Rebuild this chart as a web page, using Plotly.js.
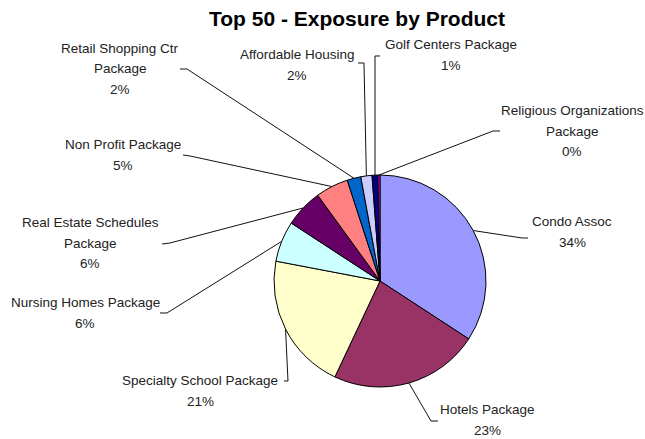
<!DOCTYPE html>
<html>
<head>
<meta charset="utf-8">
<script src="https://cdn.plot.ly/plotly-3.0.1.min.js"></script>
<style>html,body{margin:0;padding:0;background:#fff;}#chart{width:645px;height:439px;}</style>
</head>
<body>
<div id="chart"></div>
<script>
// ---- data ----
const categories = [
  'Condo Assoc',
  'Hotels Package',
  'Specialty School Package',
  'Nursing Homes Package',
  'Real Estate Schedules<br>Package',
  'Non Profit Package',
  'Retail Shopping Ctr<br>Package',
  'Affordable Housing',
  'Golf Centers Package',
  'Religious Organizations<br>Package'
];
const values = [34.2, 22.8, 21.0, 6.2, 5.8, 5.0, 2.1, 1.7, 0.9, 0.3];
const colors = ['#9999FF', '#993366', '#FFFFCC', '#CCFFFF', '#660066',
                '#FF8080', '#0066CC', '#CCCCFF', '#000080', '#FF00FF'];

// ---- layout (pixels) ----
const W = 645, H = 439;
const CX = 380, CY = 281, R = 106;
// label block centres and leader line waypoints (label side)
const labelPos = [
  [572, 232], [487, 420], [200, 391], [85, 313], [90, 243],
  [123, 155], [120, 69], [297, 65], [451, 55], [572, 131]
];
const leaderPts = [
  [[528, 238], [522, 238]],
  [[438, 421], [431, 421]],
  [[284, 381], [288, 381]],
  [[160, 313], [167, 313]],
  [[162, 244], [170, 243]],
  [[183, 155], [190, 156]],
  [[180, 69], [187, 69]],
  [[358, 63], [364, 63]],
  [[380, 56], [375, 56]],
  [[500, 131], [493, 131]]
];
const LINE_GAP = 20.5;

const px = x => x / W;
const py = y => 1 - y / H;

const total = values.reduce((a, b) => a + b, 0);
const annotations = [];
const shapes = [];
let cum = 0;
values.forEach((v, i) => {
  const mid = (cum + v / 2) / total * 2 * Math.PI;
  cum += v;
  const ex = CX + R * Math.sin(mid);
  const ey = CY - R * Math.cos(mid);
  const pct = Math.round(v / total * 100) + '%';
  const lines = categories[i].split('<br>').concat([pct]);
  const n = lines.length;
  lines.forEach((t, k) => {
    annotations.push({
      text: t, showarrow: false, xref: 'paper', yref: 'paper',
      x: px(labelPos[i][0]), y: py(labelPos[i][1] + (k - (n - 1) / 2) * LINE_GAP),
      xanchor: 'center', yanchor: 'middle',
      font: {family: 'Liberation Sans, Arial, sans-serif', size: 13.5, color: '#222'}
    });
  });
  const pts = leaderPts[i].concat([[ex, ey]]);
  const path = pts.map((p, k) => (k ? 'L' : 'M') + px(p[0]).toFixed(5) + ',' + py(p[1]).toFixed(5)).join(' ');
  shapes.push({type: 'path', xref: 'paper', yref: 'paper', path: path,
    line: {color: '#111', width: 1}});
});

const trace = {
  type: 'pie',
  labels: categories,
  values: values,
  sort: false,
  direction: 'clockwise',
  rotation: 0,
  textinfo: 'none',
  hoverinfo: 'label+percent',
  marker: {colors: colors, line: {color: '#000', width: 1}},
  domain: {x: [px(CX - R), px(CX + R)], y: [py(CY + R), py(CY - R)]}
};

const layout = {
  width: W, height: H,
  margin: {l: 0, r: 0, t: 0, b: 0},
  paper_bgcolor: '#fff',
  showlegend: false,
  title: {
    text: '<b>Top 50 - Exposure by Product</b>',
    x: px(357), xanchor: 'center', xref: 'paper',
    y: py(19), yanchor: 'middle', yref: 'paper',
    font: {family: 'Liberation Sans, Arial, sans-serif', size: 21, color: '#000'}
  },
  annotations: annotations,
  shapes: shapes
};

Plotly.newPlot('chart', [trace], layout, {displayModeBar: false, staticPlot: true});
</script>
</body>
</html>
